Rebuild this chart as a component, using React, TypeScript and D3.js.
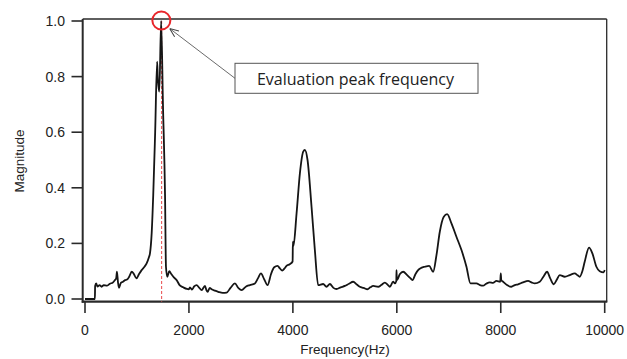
import React from 'react';
import * as d3 from 'd3';

const freq = [
  0, 190, 195, 215, 240, 280, 320, 360, 420, 480, 540, 577, 600, 615, 635, 654, 690, 730, 770, 810, 850, 900, 940, 990,
  1040, 1090, 1140, 1186, 1230, 1250, 1283, 1313, 1350, 1388, 1400, 1430, 1465, 1500, 1540, 1558, 1583, 1622, 1660, 1710,
  1763, 1820, 1890, 1960, 2000, 2019, 2060, 2100, 2147, 2200, 2244, 2308, 2340, 2359, 2400, 2436, 2500, 2564, 2650, 2724,
  2800, 2885, 2950, 3013, 3100, 3173, 3269, 3330, 3385, 3450, 3513, 3580, 3641, 3705, 3750, 3795, 3840, 3878, 3940, 3995,
  4000, 4010, 4071, 4135, 4199, 4231, 4282, 4359, 4423, 4487, 4583, 4647, 4712, 4780, 4840, 4920, 5000, 5080, 5160, 5230,
  5288, 5360, 5436, 5490, 5545, 5641, 5700, 5769, 5830, 5865, 5929, 5962, 5990, 5994, 6000, 6060, 6122, 6199, 6260, 6301,
  6360, 6410, 6470, 6538, 6622, 6699, 6763, 6827, 6904, 6968, 7051, 7147, 7244, 7340, 7417, 7532, 7600, 7660, 7720, 7788,
  7850, 7917, 7990, 8000, 8010, 8045, 8120, 8205, 8270, 8333, 8430, 8526, 8590, 8654, 8750, 8820, 8891, 8950, 9019, 9080,
  9135, 9231, 9327, 9423, 9480, 9519, 9570, 9615, 9699, 9763, 9840, 9904, 9981, 10000,
];
const magnitude = [
  0, 0, 0.047, 0.056, 0.045, 0.05, 0.044, 0.05, 0.048, 0.055, 0.06, 0.068, 0.075, 0.098, 0.06, 0.04, 0.058, 0.062, 0.068, 0.07, 0.08, 0.098, 0.09, 0.074,
  0.09, 0.104, 0.115, 0.128, 0.15, 0.164, 0.237, 0.374, 0.6, 0.854, 0.8, 0.746, 1.0, 0.7, 0.374, 0.116, 0.08, 0.1, 0.09, 0.078,
  0.068, 0.05, 0.042, 0.036, 0.035, 0.042, 0.034, 0.045, 0.05, 0.04, 0.032, 0.047, 0.03, 0.026, 0.04, 0.035, 0.03, 0.026, 0.022, 0.023,
  0.04, 0.056, 0.04, 0.032, 0.045, 0.05, 0.056, 0.075, 0.092, 0.07, 0.05, 0.09, 0.114, 0.119, 0.11, 0.102, 0.11, 0.119, 0.125, 0.135,
  0.206, 0.19, 0.308, 0.452, 0.53, 0.536, 0.5, 0.332, 0.176, 0.05, 0.054, 0.044, 0.054, 0.04, 0.036, 0.042, 0.047, 0.055, 0.062, 0.052,
  0.044, 0.04, 0.035, 0.042, 0.047, 0.044, 0.05, 0.059, 0.05, 0.044, 0.062, 0.056, 0.065, 0.104, 0.068, 0.09, 0.098, 0.086, 0.075, 0.068,
  0.09, 0.104, 0.112, 0.116, 0.119, 0.098, 0.158, 0.242, 0.296, 0.305, 0.272, 0.224, 0.176, 0.116, 0.056, 0.056, 0.05, 0.048, 0.055, 0.06,
  0.058, 0.065, 0.062, 0.092, 0.068, 0.062, 0.05, 0.044, 0.05, 0.053, 0.06, 0.065, 0.06, 0.056, 0.062, 0.08, 0.098, 0.075, 0.053, 0.07,
  0.086, 0.08, 0.086, 0.092, 0.085, 0.08, 0.1, 0.134, 0.185, 0.164, 0.116, 0.1, 0.096, 0.104,
];
const xTicks = [0, 2000, 4000, 6000, 8000, 10000];
const yTicks = [0, 0.2, 0.4, 0.6, 0.8, 1.0];
const peakFreq = 1475;
const peakMag = 1.0;
const xLabel = 'Frequency(Hz)';
const yLabel = 'Magnitude';
const annotationText = 'Evaluation peak frequency';

export default function App() {
  const x = d3.scaleLinear().domain([0, 10000]).range([85, 604.7]);
  const y = d3.scaleLinear().domain([0, 1]).range([299, 21]);
  const frame = { left: 82.7, right: 606.7, top: 19, bottom: 301.7 };
  const pts: [number, number][] = freq.map((f, i) => [f, magnitude[i]]);
  const line = d3
    .line<[number, number]>()
    .x((d) => x(d[0]))
    .y((d) => y(d[1]))
    .curve(d3.curveMonotoneX);
  const px = x(peakFreq);
  const py = y(peakMag);
  const box = { x: 235, y: 63.3, w: 243, h: 30 };
  const font = "'Liberation Sans', Arial, sans-serif";
  return (
    <svg width={627} height={359} style={{ position: 'absolute', left: 0, top: 0, background: '#fff' }}>
      <defs>
        <marker id="arr" viewBox="0 0 10 10" refX="10" refY="5" markerWidth="9" markerHeight="9" orient="auto-start-reverse" markerUnits="userSpaceOnUse">
          <path d="M0,1 L10,5 L0,9" fill="none" stroke="#444" strokeWidth={1.1} />
        </marker>
      </defs>
      {/* frame */}
      <line x1={frame.left} x2={frame.right} y1={frame.top} y2={frame.top} stroke="#2a2a2a" strokeWidth={1.3} />
      <line x1={frame.right} x2={frame.right} y1={frame.top} y2={frame.bottom} stroke="#2a2a2a" strokeWidth={1.3} />
      <line x1={frame.left} x2={frame.left} y1={frame.top} y2={frame.bottom + 1} stroke="#2a2a2a" strokeWidth={2} />
      <line x1={frame.left - 1} x2={frame.right + 0.6} y1={frame.bottom} y2={frame.bottom} stroke="#2a2a2a" strokeWidth={2.2} />
      {/* y ticks */}
      {yTicks.map((t) => (
        <g key={'y' + t}>
          <line x1={71.5} x2={frame.left} y1={y(t)} y2={y(t)} stroke="#2a2a2a" strokeWidth={1.6} />
          <text x={65} y={y(t)} dy="0.36em" textAnchor="end" fontFamily={font} fontSize={14} fill="#222">
            {d3.format('.1f')(t)}
          </text>
        </g>
      ))}
      {/* x ticks */}
      {xTicks.map((t) => (
        <g key={'x' + t}>
          <line x1={x(t)} x2={x(t)} y1={frame.bottom} y2={313} stroke="#2a2a2a" strokeWidth={1.6} />
          <text x={x(t)} y={335} textAnchor="middle" fontFamily={font} fontSize={14} fill="#222">
            {t}
          </text>
        </g>
      ))}
      <text x={345} y={354} textAnchor="middle" fontFamily={font} fontSize={13.5} fill="#222">
        {xLabel}
      </text>
      <text transform={`translate(23.5,161) rotate(-90)`} textAnchor="middle" fontFamily={font} fontSize={13.5} fill="#222">
        {yLabel}
      </text>
      {/* dashed red line at peak */}
      <line x1={px} x2={px} y1={py} y2={frame.bottom} stroke="#e8484a" strokeWidth={1} strokeDasharray="3,2" />
      {/* spectrum */}
      <path d={line(pts) || ''} fill="none" stroke="#151515" strokeWidth={1.8} strokeLinejoin="round" />
      {/* red circle */}
      <circle cx={px - 0.3} cy={py - 0.5} r={9} fill="none" stroke="#e8262b" strokeWidth={2} />
      {/* arrow */}
      <line x1={box.x} y1={box.y + 15} x2={px + 8} y2={py + 7.5} stroke="#444" strokeWidth={0.8} markerEnd="url(#arr)" />
      {/* annotation box */}
      <rect x={box.x} y={box.y} width={box.w} height={box.h} fill="#fff" stroke="#555" strokeWidth={1} />
      <text x={box.x + box.w / 2 - 1} y={box.y + 21.5} textAnchor="middle" fontFamily="'Open Sans', Lato, sans-serif" fontSize={16} fill="#222">
        {annotationText}
      </text>
    </svg>
  );
}
